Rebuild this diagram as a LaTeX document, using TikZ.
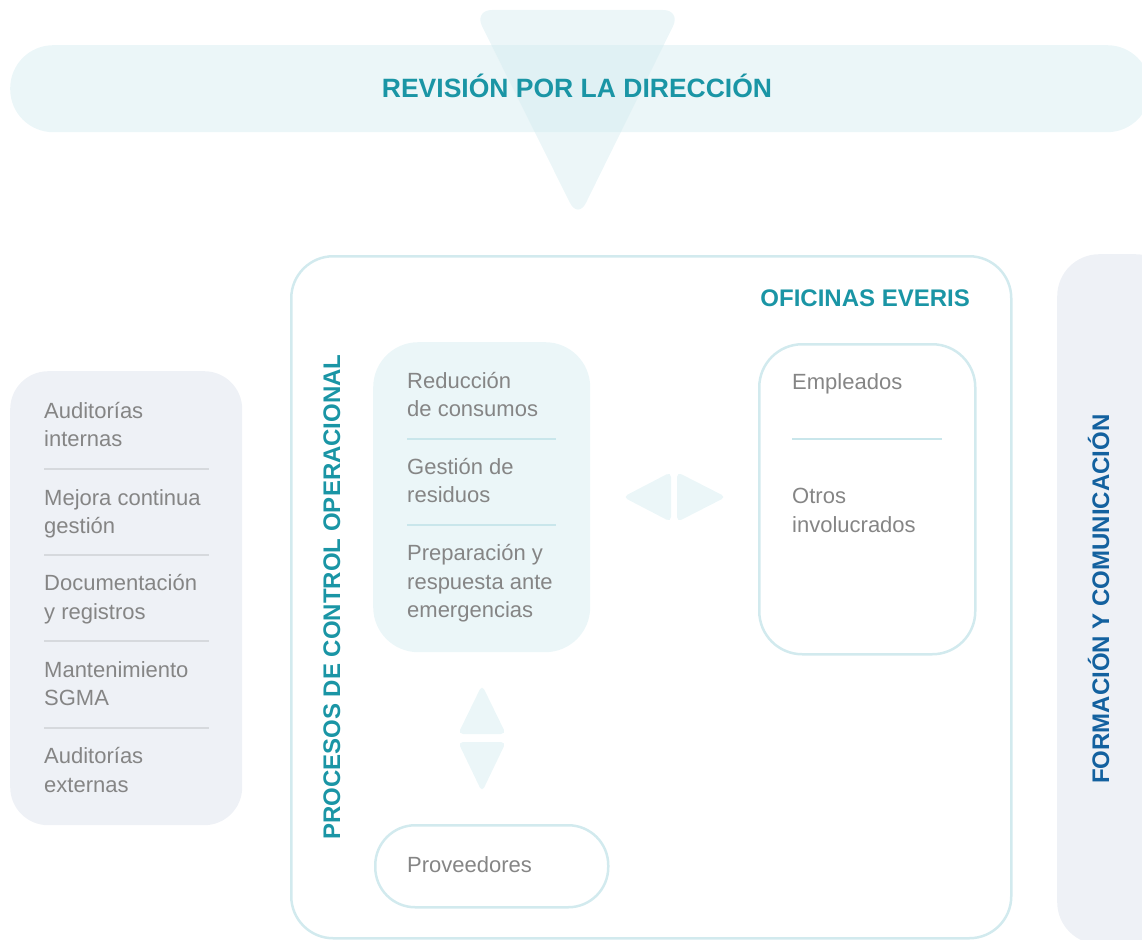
\documentclass[tikz,border=0pt]{standalone}
\usepackage{fontspec}
\setmainfont{Liberation Sans}
\definecolor{lteal}{HTML}{EBF6F8}
\definecolor{tri}{HTML}{D4ECF0}
\definecolor{stroke}{HTML}{D2EAEE}
\definecolor{sep}{HTML}{C9E6EB}
\definecolor{lgray}{HTML}{EEF1F6}
\definecolor{sepgray}{HTML}{D6D9DD}
\definecolor{txtgray}{HTML}{858585}
\definecolor{teal}{HTML}{1A95A5}
\definecolor{dblue}{HTML}{13619F}
\begin{document}
\begin{tikzpicture}[x=1pt,y=-1pt,
  graytxt/.style={anchor=base west,inner sep=0,text=txtgray,font=\fontsize{22}{28}\selectfont},
  boldtxt/.style={inner sep=0,font=\fontsize{24}{28}\selectfont\bfseries},
  boxnode/.style={anchor=north west,inner sep=0,rectangle},
  outlined/.style={draw=stroke,line width=2.5pt},
  sepline/.style={draw=sep,line width=2.5pt},
  sepgline/.style={draw=sepgray,line width=2.5pt},
  arrowfill/.style={fill=lteal,rounded corners=5pt}]
\useasboundingbox (0,0) rectangle (1142,939);
\clip (0,0) rectangle (1142,939);
% banner
\node[boxnode,fill=lteal,rounded corners=43pt,minimum width=1140pt,minimum height=87pt] (banner) at (10,45) {};
\fill[tri,opacity=0.45,rounded corners=18pt] (474,10) -- (681,10) -- (578,219) -- cycle;
\node[inner sep=0,anchor=base,text=teal,font=\fontsize{26.5}{30}\selectfont\bfseries] (title) at (577,98) {REVISIÓN POR LA DIRECCIÓN};
% left box
\node[boxnode,fill=lgray,rounded corners=38pt,minimum width=232pt,minimum height=454pt] (left) at (10,371) {};
\node[graytxt] (l1a) at (44,418) {Auditorías};
\node[graytxt] (l1b) at (44,446) {internas};
\draw[sepgline] (44,469) -- (209,469);
\node[graytxt] (l2a) at (44,505) {Mejora continua};
\node[graytxt] (l2b) at (44,533) {gestión};
\draw[sepgline] (44,555) -- (209,555);
\node[graytxt] (l3a) at (44,590) {Documentación};
\node[graytxt] (l3b) at (44,619) {y registros};
\draw[sepgline] (44,641) -- (209,641);
\node[graytxt] (l4a) at (44,677) {Mantenimiento};
\node[graytxt] (l4b) at (44,705) {SGMA};
\draw[sepgline] (44,728) -- (209,728);
\node[graytxt] (l5a) at (44,763) {Auditorías};
\node[graytxt] (l5b) at (44,792) {externas};
% main box
\node[boxnode,outlined,rounded corners=42pt,minimum width=720pt,minimum height=682pt] (main) at (290,255) {};
\node[boldtxt,anchor=base east,text=teal] (ofi) at (970,306) {OFICINAS EVERIS};
\node[boldtxt,anchor=base,rotate=90,text=teal] (proc) at (340,597) {PROCESOS DE CONTROL OPERACIONAL};
% inner box 1
\node[boxnode,fill=lteal,rounded corners=45pt,minimum width=217pt,minimum height=310pt] (inner) at (373,342) {};
\node[graytxt] (i1a) at (407,388) {Reducción};
\node[graytxt] (i1b) at (407,416) {de consumos};
\draw[sepline] (407,439) -- (556,439);
\node[graytxt] (i2a) at (407,474) {Gestión de};
\node[graytxt] (i2b) at (407,502) {residuos};
\draw[sepline] (407,525) -- (556,525);
\node[graytxt] (i3a) at (407,560) {Preparación y};
\node[graytxt] (i3b) at (407,589) {respuesta ante};
\node[graytxt] (i3c) at (407,617) {emergencias};
% right box
\node[boxnode,outlined,rounded corners=43pt,minimum width=216pt,minimum height=310pt] (rbox) at (758,343) {};
\node[graytxt] (r1) at (792,389) {Empleados};
\draw[sepline] (792,439) -- (942,439);
\node[graytxt] (r2a) at (792,503) {Otros};
\node[graytxt] (r2b) at (792,532) {involucrados};
% horizontal arrows
\fill[arrowfill] (623,497) -- (671,472) -- (671,522) -- cycle;
\fill[arrowfill] (726,497) -- (677,472) -- (677,522) -- cycle;
% vertical arrows
\fill[arrowfill] (482,685) -- (506,734) -- (458,734) -- cycle;
\fill[arrowfill] (482,792) -- (506,742) -- (458,742) -- cycle;
% proveedores
\node[boxnode,outlined,rounded corners=40pt,minimum width=233pt,minimum height=82pt] (prov) at (374,824) {};
\node[graytxt] (provt) at (407,872) {Proveedores};
% right bar
\node[boxnode,fill=lgray,rounded corners=42pt,minimum width=120pt,minimum height=690pt] (rbar) at (1057,254) {};
\node[boldtxt,anchor=base,rotate=90,text=dblue] (form) at (1109,599) {FORMACIÓN Y COMUNICACIÓN};
\end{tikzpicture}
\end{document}
